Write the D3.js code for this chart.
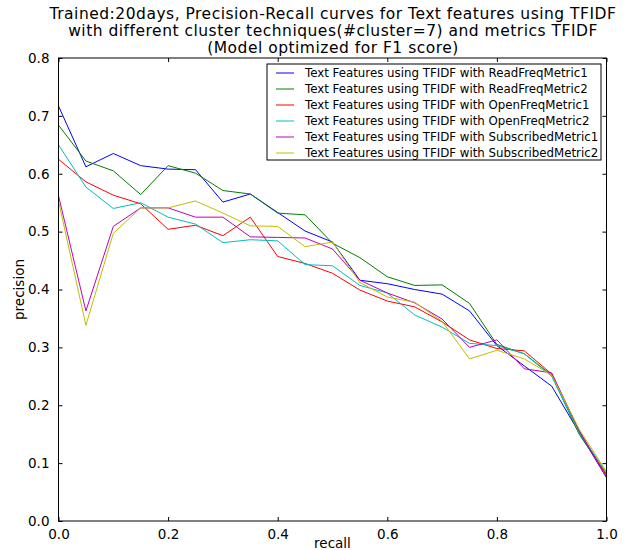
<!DOCTYPE html>
<html>
<head>
<meta charset="utf-8">
<script src="https://cdn.jsdelivr.net/npm/d3@7/dist/d3.min.js"></script>
<style>
  body { margin: 0; background: #fff; }
  svg text { font-family: "DejaVu Sans", sans-serif; fill: #000; }
</style>
</head>
<body>
<div id="chart"></div>
<script>

var recall = [0, 0.05, 0.1, 0.15, 0.2, 0.25, 0.3, 0.35, 0.4, 0.45, 0.5,
              0.55, 0.6, 0.65, 0.7, 0.75, 0.8, 0.85, 0.9, 0.95, 1.0];

var seriesNames = [
  "Text Features using TFIDF with ReadFreqMetric1",
  "Text Features using TFIDF with ReadFreqMetric2",
  "Text Features using TFIDF with OpenFreqMetric1",
  "Text Features using TFIDF with OpenFreqMetric2",
  "Text Features using TFIDF with SubscribedMetric1",
  "Text Features using TFIDF with SubscribedMetric2"
];

var readFreq1 = [0.717, 0.612, 0.635, 0.614, 0.608, 0.607, 0.551, 0.565, 0.533, 0.501, 0.482,
                 0.416, 0.410, 0.400, 0.392, 0.363, 0.303, 0.268, 0.233, 0.153, 0.075];
var readFreq2 = [0.684, 0.622, 0.605, 0.564, 0.614, 0.601, 0.571, 0.565, 0.532, 0.529, 0.480,
                 0.455, 0.422, 0.407, 0.408, 0.376, 0.305, 0.289, 0.252, 0.150, 0.081];
var openFreq1 = [0.625, 0.586, 0.563, 0.548, 0.504, 0.511, 0.493, 0.525, 0.457, 0.445, 0.428,
                 0.399, 0.380, 0.370, 0.344, 0.313, 0.298, 0.294, 0.254, 0.156, 0.078];
var openFreq2 = [0.650, 0.577, 0.540, 0.550, 0.525, 0.513, 0.481, 0.486, 0.484, 0.443, 0.441,
                 0.407, 0.394, 0.356, 0.335, 0.307, 0.303, 0.289, 0.250, 0.153, 0.084];
var subscribed1 = [0.562, 0.363, 0.509, 0.541, 0.541, 0.525, 0.525, 0.491, 0.490, 0.489, 0.470,
                   0.416, 0.394, 0.377, 0.349, 0.300, 0.313, 0.263, 0.256, 0.156, 0.075];
var subscribed2 = [0.553, 0.338, 0.497, 0.541, 0.541, 0.553, 0.532, 0.510, 0.509, 0.474, 0.482,
                   0.412, 0.387, 0.378, 0.345, 0.280, 0.295, 0.280, 0.252, 0.159, 0.085];

var colors = ["#0000ff", "#008000", "#ff0000", "#00bfbf", "#bf00bf", "#bfbf00"];

var xTicks = [0, 0.2, 0.4, 0.6, 0.8, 1.0];
var yTicks = [0, 0.1, 0.2, 0.3, 0.4, 0.5, 0.6, 0.7, 0.8];

var titleLines = [
  "Trained:20days, Precision-Recall curves for Text features using TFIDF",
  "with different cluster techniques(#cluster=7) and metrics TFIDF",
  "(Model optimized for F1 score)"
];

var allSeries = [readFreq1, readFreq2, openFreq1, openFreq2, subscribed1, subscribed2];

var width = 635, height = 550;
var marginleft = 58.5, marginright = 28.5, margintop = 58, marginbottom = 29;
var tickLen = 4;

var svg = d3.select("#chart").append("svg")
  .attr("width", width)
  .attr("height", height);

var xScale = d3.scaleLinear().domain([0, 1]).range([marginleft, width - marginright]);
var yScale = d3.scaleLinear().domain([0, 0.8]).range([height - marginbottom, margintop]);

// title
svg.append("g").selectAll("text")
  .data(titleLines)
  .enter().append("text")
  .attr("x", 333)
  .attr("y", function(d, i) { return 19 + i * 17; })
  .attr("text-anchor", "middle")
  .style("font-size", "15.5px")
  .style("letter-spacing", "0.5px")
  .text(function(d) { return d; });

// lines
var line = d3.line()
  .x(function(d, i) { return xScale(recall[i]); })
  .y(function(d) { return yScale(d); });

svg.append("g").selectAll("path")
  .data(allSeries)
  .enter().append("path")
  .attr("d", line)
  .attr("fill", "none")
  .attr("stroke", function(d, i) { return colors[i]; })
  .attr("stroke-width", 1);

// axes, ticks pointing inward on all 4 sides (classic matplotlib)
function styleAxis(g) {
  g.select(".domain").remove();
  g.selectAll(".tick line").attr("stroke", "#000");
  g.selectAll(".tick text").style("font-size", "13.5px").style("font-family", "DejaVu Sans");
}

svg.append("g")
  .attr("transform", "translate(0," + (height - marginbottom) + ")")
  .call(d3.axisBottom(xScale).tickValues(xTicks).tickFormat(d3.format(".1f"))
    .tickSizeInner(-tickLen).tickPadding(8))
  .call(styleAxis);

svg.append("g")
  .attr("transform", "translate(0," + margintop + ")")
  .call(d3.axisTop(xScale).tickValues(xTicks).tickFormat("").tickSizeInner(-tickLen))
  .call(styleAxis);

svg.append("g")
  .attr("transform", "translate(" + marginleft + ",0)")
  .call(d3.axisLeft(yScale).tickValues(yTicks).tickFormat(d3.format(".1f"))
    .tickSizeInner(-tickLen).tickPadding(9))
  .call(styleAxis);

svg.append("g")
  .attr("transform", "translate(" + (width - marginright) + ",0)")
  .call(d3.axisRight(yScale).tickValues(yTicks).tickFormat("").tickSizeInner(-tickLen))
  .call(styleAxis);

// frame
svg.append("rect")
  .attr("x", marginleft)
  .attr("y", margintop)
  .attr("width", width - marginleft - marginright)
  .attr("height", height - margintop - marginbottom)
  .attr("fill", "none")
  .attr("stroke", "#000")
  .attr("stroke-width", 1);

// axis labels
svg.append("text")
  .attr("x", xScale(0.5))
  .attr("y", 548)
  .attr("text-anchor", "middle")
  .style("font-size", "13.5px")
  .text("recall");

svg.append("text")
  .attr("transform", "translate(24," + yScale(0.4) + ") rotate(-90)")
  .attr("text-anchor", "middle")
  .style("font-size", "13.5px")
  .text("precision");

// legend
var legend = svg.append("g").attr("transform", "translate(267,64)");
legend.append("rect")
  .attr("width", 334)
  .attr("height", 96)
  .attr("fill", "#fff")
  .attr("stroke", "#000")
  .attr("stroke-width", 1);

var items = legend.selectAll("g.item")
  .data(seriesNames)
  .enter().append("g")
  .attr("class", "item")
  .attr("transform", function(d, i) { return "translate(0," + (9 + i * 16) + ")"; });

items.append("line")
  .attr("x1", 9).attr("x2", 27)
  .attr("stroke", function(d, i) { return colors[i]; })
  .attr("stroke-width", 1);

items.append("text")
  .attr("x", 38)
  .attr("y", 4)
  .style("font-size", "11.8px")
  .text(function(d) { return d; });

</script>
</body>
</html>
